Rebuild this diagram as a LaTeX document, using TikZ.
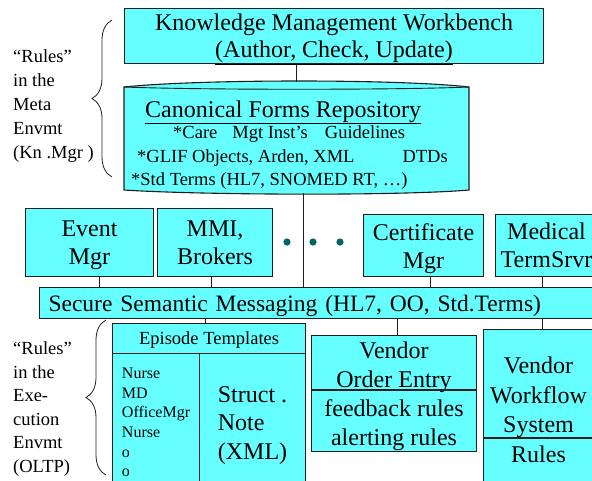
\documentclass[tikz,border=0pt]{standalone}
\usepackage{fontspec}
\setmainfont{Liberation Serif}
\usetikzlibrary{decorations.pathreplacing}
\definecolor{kmcyan}{RGB}{102,255,255}
\definecolor{kmline}{RGB}{30,30,30}
\definecolor{kmdot}{RGB}{0,102,102}

\begin{document}
\begin{tikzpicture}[
    x=1pt,y=-1pt,
    box/.style={draw=kmline,line width=1.1pt,fill=kmcyan,inner sep=0pt,align=center,anchor=north west,text depth=0pt,font=\fontsize{24}{28}\selectfont},
    link/.style={draw=kmline,line width=0.9pt},
    rules/.style={align=left,anchor=west,inner sep=0pt,font=\fontsize{18.5}{24}\selectfont},
    kmbrace/.style={decorate,decoration={brace,amplitude=20pt},draw=kmline,line width=0.8pt},
    canontext/.style={anchor=base west,inner sep=0pt,font=\fontsize{18.5}{22}\selectfont}
  ]
  \useasboundingbox (0,0) rectangle (592,480);
  \clip (0,0) rectangle (592,480);

  % meta environment
  \node[box,minimum width=419pt,minimum height=55pt,font=\fontsize{24}{27}\selectfont] (kmw) at (124,8) {Knowledge Management Workbench\\\underline{(Author, Check, Update)}};

  \node[minimum width=345pt,minimum height=111pt,anchor=north west,inner sep=0pt] (canon) at (124,82) {};
  \filldraw[fill=kmcyan,draw=kmline,line width=1.1pt] (124,87) .. controls (200,79) and (400,79) .. (469,87) -- (469,190) .. controls (400,196) and (200,195) .. (124,190) -- cycle;
  \draw[kmline,line width=0.9pt] (124,87) .. controls (200,90) and (400,90) .. (469,87);
  \node[canontext,font=\fontsize{24}{24}\selectfont] (canontitle) at (145,117) {\underline{Canonical Forms Repository}};
  \node[canontext] (canoncare) at (173,138) {*Care\hspace{15pt}Mgt Inst’s\hspace{17pt}Guidelines};
  \node[canontext] (canonglif) at (137,162) {*GLIF Objects, Arden, XML\hspace{48pt}DTDs};
  \node[canontext] (canonstd) at (131,185) {*Std Terms (HL7, SNOMED RT, …)};

  \draw[link] (kmw.south -| canon.north) -- (canon.north);

  % services
  \node[box,minimum width=128pt,minimum height=68pt] (event) at (25,208) {Event\\Mgr};
  \node[box,minimum width=115pt,minimum height=68pt] (mmi) at (157,208) {MMI,\\Brokers};
  \node[box,minimum width=120pt,minimum height=62pt] (cert) at (363,214) {Certificate\\Mgr};
  \node[box,minimum width=102pt,minimum height=62pt] (medical) at (495,214) {Medical\\TermSrvr};
  \foreach \x in {287,313,340}
    \fill[kmdot] (\x,242) circle (3.6pt);

  \node[box,align=left,text width=553pt,inner xsep=9pt,minimum height=31pt,font=\fontsize{23.5}{28}\selectfont] (ssm) at (39,287) {Secure Semantic Messaging (HL7, OO, Std.Terms)};

  \draw[link] ([xshift=6.5pt]canon.south) -- ([xshift=6.5pt]canon.south |- ssm.north);
  \draw[link] ([xshift=10pt]event.south) -- ([xshift=10pt]event.south |- ssm.north);
  \draw[link] ([xshift=-3.5pt]mmi.south) -- ([xshift=-3.5pt]mmi.south |- ssm.north);
  \draw[link] ([xshift=7pt]cert.south) -- ([xshift=7pt]cert.south |- ssm.north);
  \draw[link] ([xshift=-4pt]medical.south) -- ([xshift=-4pt]medical.south |- ssm.north);

  % execution environment
  \node[box,minimum width=193pt,minimum height=30pt,font=\fontsize{18.5}{22}\selectfont] (eptitle) at (112,323) {Episode Templates};
  \node[box,minimum width=87pt,minimum height=138pt,align=left,font=\fontsize{16}{19.6}\selectfont] (eproles) at (112,353) {Nurse\\MD\\OfficeMgr\\Nurse\\o\\o};
  \node[box,minimum width=106pt,minimum height=138pt,align=left,font=\fontsize{24}{28.5}\selectfont] (epnote) at (199,353) {Struct .\\Note\\(XML)};

  \node[box,minimum width=165pt,minimum height=116pt,font=\fontsize{24}{29}\selectfont] (vendoe) at (311,335) {Vendor\\Order Entry\\feedback rules\\alerting rules};
  \draw[kmline,line width=1.1pt] ([yshift=-55pt]vendoe.north west) -- ([yshift=-55pt]vendoe.north east);

  \node[box,minimum width=110pt,minimum height=160pt,font=\fontsize{24}{29.5}\selectfont] (vendwf) at (483,329) {Vendor\\Workflow\\System\\Rules};
  \draw[kmline,line width=1.1pt] ([yshift=-109pt]vendwf.north west) -- ([yshift=-109pt]vendwf.north east);

  \draw[link] ([xshift=-3.5pt]eptitle.north |- ssm.south) -- ([xshift=-3.5pt]eptitle.north);
  \draw[link] ([xshift=3.5pt]vendoe.north |- ssm.south) -- ([xshift=3.5pt]vendoe.north);
  \draw[link] ([xshift=4pt]vendwf.north |- ssm.south) -- ([xshift=4pt]vendwf.north);

  % rule scopes
  \node[rules] (metarules) at (13,106) {“Rules”\\in the\\Meta\\Envmt\\(Kn .Mgr )};
  \draw[kmbrace] (112,177) -- (112,20);
  \node[rules,font=\fontsize{18.5}{23.6}\selectfont] (execrules) at (13,409) {“Rules”\\in the\\Exe-\\cution\\Envmt\\(OLTP)};
  \draw[kmbrace] (106,475) -- (106,320);
\end{tikzpicture}
\end{document}
